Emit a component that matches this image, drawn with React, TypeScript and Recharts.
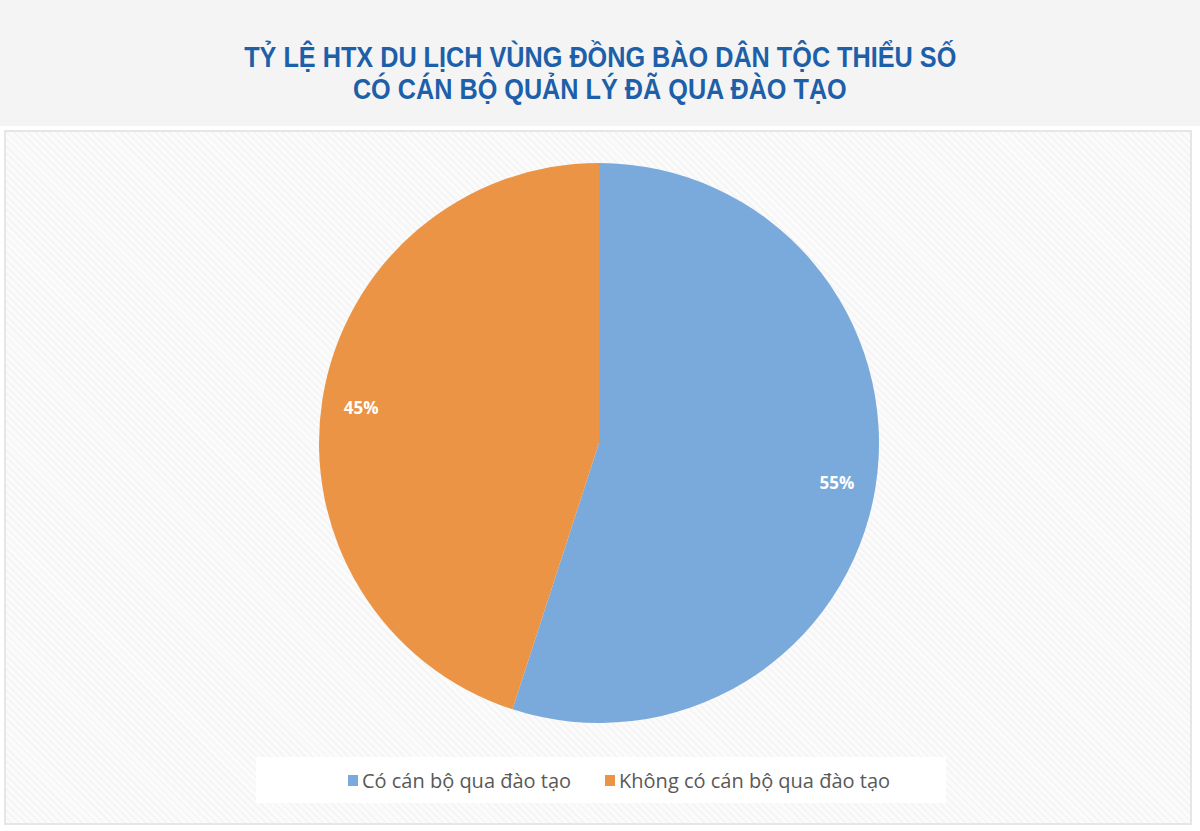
import React from 'react';
import { PieChart, Pie, Cell, Legend } from 'recharts';

const categories = ['Có cán bộ qua đào tạo', 'Không có cán bộ qua đào tạo'];
const shares = [55, 45];
const colors = ['#7aaadb', '#eb9446'];

const data = categories.map((name, i) => ({ name, value: shares[i] }));

const RAD = Math.PI / 180;

const renderLabel = (props: any) => {
  const { cx, cy, midAngle, outerRadius, value } = props;
  const r = outerRadius * 0.86;
  const x = cx + r * Math.cos(-midAngle * RAD);
  const y = cy + r * Math.sin(-midAngle * RAD);
  return (
    <text x={x} y={y + 2} fill="#ffffff" fontSize={17} fontWeight={700}
      fontFamily="'Open Sans', 'Noto Sans', sans-serif" textAnchor="middle" dominantBaseline="central">
      {value}%
    </text>
  );
};

const renderLegend = () => (
  <div style={{
    display: 'flex', justifyContent: 'center', alignItems: 'center', height: 46, paddingLeft: 36, boxSizing: 'border-box',
    background: '#ffffff', fontFamily: "'Open Sans', 'Noto Sans', sans-serif", fontSize: 20, color: '#595959',
  }}>
    {categories.map((name, i) => (
      <div key={name} style={{ display: 'flex', alignItems: 'center', marginRight: i === 0 ? 34 : 0 }}>
        <span style={{ width: 10, height: 11, background: colors[i], display: 'inline-block', marginRight: 4 }} />
        <span>{name}</span>
      </div>
    ))}
  </div>
);

export default function App() {
  return (
    <div style={{ position: 'absolute', left: 0, top: 0, width: 1200, height: 831, background: '#ffffff', overflow: 'hidden' }}>
      <div style={{
        position: 'absolute', left: 0, top: 0, width: 1200, height: 126, background: '#f4f4f4',
        display: 'flex', flexDirection: 'column', alignItems: 'center', justifyContent: 'center',
        fontFamily: "'Liberation Sans', Arial, sans-serif",
        fontWeight: 700, fontSize: 29, color: '#1d5fa8', lineHeight: '32px', paddingTop: 20, boxSizing: 'border-box',
      }}>
        <div style={{ transform: 'scaleX(0.87)', whiteSpace: 'nowrap' }}>TỶ LỆ HTX DU LỊCH VÙNG ĐỒNG BÀO DÂN TỘC THIỂU SỐ</div>
        <div style={{ transform: 'scaleX(0.87)', whiteSpace: 'nowrap' }}>CÓ CÁN BỘ QUẢN LÝ ĐÃ QUA ĐÀO TẠO</div>
      </div>
      <div style={{
        position: 'absolute', left: 4, top: 130, width: 1188, height: 695, boxSizing: 'border-box',
        border: '2px solid #e6e6e6',
        background: 'repeating-linear-gradient(45deg, #fbfbfb 0px, #fbfbfb 3px, #f5f5f5 3px, #f5f5f5 5px)',
      }}>
        <PieChart width={1184} height={691}>
          <Pie
            data={data}
            dataKey="value"
            nameKey="name"
            cx={588}
            cy={306}
            outerRadius={280}
            startAngle={90}
            endAngle={-270}
            stroke="none"
            label={renderLabel}
            labelLine={false}
            isAnimationActive={false}
          >
            {data.map((d, i) => <Cell key={d.name} fill={colors[i]} />)}
          </Pie>
          <Legend
            content={renderLegend}
            wrapperStyle={{ position: 'absolute', left: 250, top: 625, width: 690, height: 46 }}
          />
        </PieChart>
      </div>
    </div>
  );
}
